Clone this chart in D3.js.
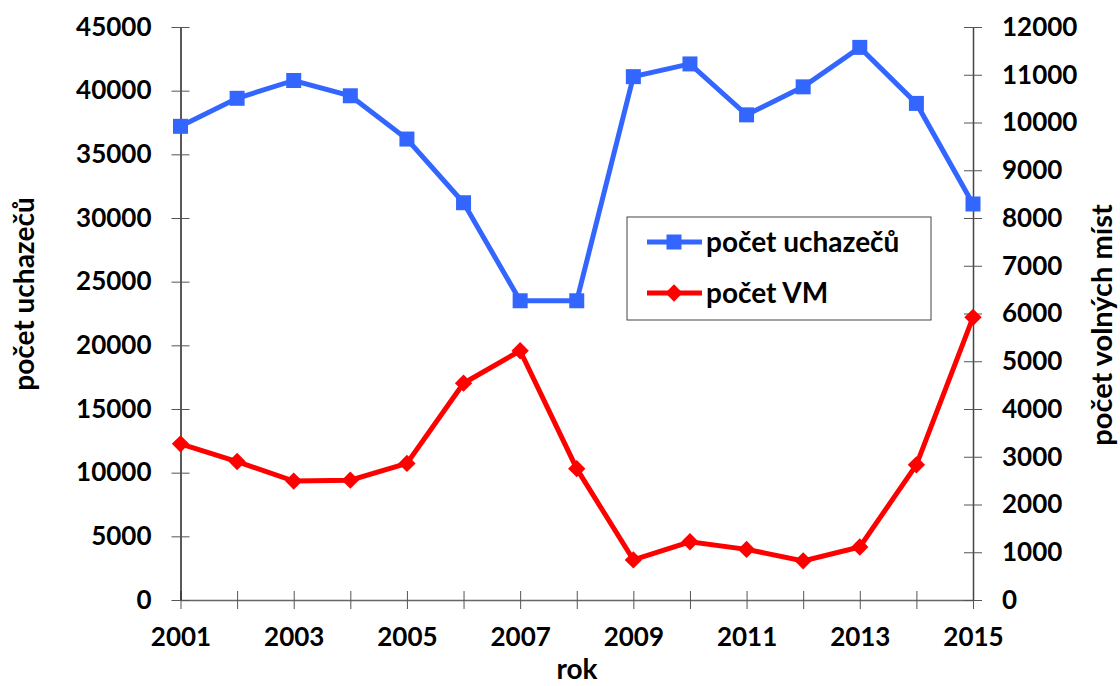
<!DOCTYPE html>
<html>
<head>
<meta charset="utf-8">
<script src="https://d3js.org/d3.v7.min.js"></script>
<style>
	body { margin: 0; background: #fff; }
	text { font-family: Lato, "Open Sans", sans-serif; font-weight: bold; fill: #000; }
</style>
</head>
<body>
<div id="chart"></div>
<script>
// years on the x axis
var years = [2001, 2002, 2003, 2004, 2005, 2006, 2007, 2008, 2009, 2010, 2011, 2012, 2013, 2014, 2015];
// počet uchazečů (left axis)
var uchazeci = [37200, 39400, 40800, 39600, 36200, 31200, 23500, 23500, 41100, 42100, 38100, 40300, 43400, 39000, 31100];
// počet VM (right axis)
var vm = [3270, 2900, 2490, 2510, 2860, 4540, 5220, 2750, 840, 1220, 1060, 820, 1110, 2830, 5920];

var leftTicks = [0, 5000, 10000, 15000, 20000, 25000, 30000, 35000, 40000, 45000];
var rightTicks = [0, 1000, 2000, 3000, 4000, 5000, 6000, 7000, 8000, 9000, 10000, 11000, 12000];
var xLabelYears = [2001, 2003, 2005, 2007, 2009, 2011, 2013, 2015];

var W = 1120, H = 686;
var plotL = 180.5, plotR = 973, plotT = 27, plotB = 600;

var svg = d3.select("#chart").append("svg")
	.attr("width", W).attr("height", H);

var x = d3.scaleLinear().domain([2001, 2015]).range([plotL, plotR]);
var yL = d3.scaleLinear().domain([0, 45000]).range([plotB, plotT]);
var yR = d3.scaleLinear().domain([0, 12000]).range([plotB, plotT]);

// x axis
var gx = svg.append("g")
	.attr("transform", "translate(0," + plotB + ")")
	.call(d3.axisBottom(x).tickValues(years).tickSize(9).tickSizeOuter(0).tickPadding(19)
		.tickFormat(function(d) { return xLabelYears.indexOf(d) >= 0 ? d : ""; }));
gx.select(".domain").attr("stroke", "#666").attr("stroke-width", 1.5);
gx.selectAll(".tick line").attr("y1", -9).attr("stroke", "#555");
gx.selectAll("text").style("font-size", "26px");

// left axis
var gl = svg.append("g")
	.attr("transform", "translate(" + plotL + ",0)")
	.call(d3.axisLeft(yL).tickValues(leftTicks).tickFormat(d3.format("d"))
		.tickSize(9).tickSizeOuter(0).tickPadding(20));
gl.select(".domain").attr("stroke", "#222").attr("stroke-width", 1.5);
gl.selectAll(".tick line").attr("x1", 9).attr("stroke", "#555");
gl.selectAll("text").style("font-size", "26px");

// right axis
var gr = svg.append("g")
	.attr("transform", "translate(" + plotR + ",0)")
	.call(d3.axisRight(yR).tickValues(rightTicks).tickFormat(d3.format("d"))
		.tickSize(9).tickSizeOuter(0).tickPadding(20));
gr.select(".domain").attr("stroke", "#444").attr("stroke-width", 1.5);
gr.selectAll(".tick line").attr("x1", -9).attr("stroke", "#555");
gr.selectAll("text").style("font-size", "26px");

// axis titles
svg.append("text")
	.attr("transform", "translate(34,294) rotate(-90)")
	.attr("text-anchor", "middle")
	.style("font-size", "28px")
	.text("počet uchazečů");

svg.append("text")
	.attr("transform", "translate(1112,325) rotate(-90)")
	.attr("text-anchor", "middle")
	.style("font-size", "29px")
	.text("počet volných míst");

svg.append("text")
	.attr("x", 577).attr("y", 679)
	.attr("text-anchor", "middle")
	.style("font-size", "28px")
	.text("rok");

var blue = "#3366ff", red = "#ff0000";

// lines
var lineL = d3.line().x(function(d, i) { return x(years[i]); }).y(function(d) { return yL(d); });
var lineR = d3.line().x(function(d, i) { return x(years[i]); }).y(function(d) { return yR(d); });

svg.append("path").datum(uchazeci)
	.attr("d", lineL).attr("fill", "none").attr("stroke", blue).attr("stroke-width", 5);
svg.append("path").datum(vm)
	.attr("d", lineR).attr("fill", "none").attr("stroke", red).attr("stroke-width", 5);

// markers
var sq = d3.symbol().type(d3.symbolSquare).size(225);
var dia = d3.symbol().type(d3.symbolSquare).size(150);

svg.selectAll(".sq").data(uchazeci).enter().append("path")
	.attr("class", "sq")
	.attr("d", sq)
	.attr("transform", function(d, i) { return "translate(" + x(years[i]) + "," + yL(d) + ")"; })
	.attr("fill", blue);

svg.selectAll(".dia").data(vm).enter().append("path")
	.attr("class", "dia")
	.attr("d", dia)
	.attr("transform", function(d, i) { return "translate(" + x(years[i]) + "," + yR(d) + ") rotate(45)"; })
	.attr("fill", red);

// legend
var lg = svg.append("g");
lg.append("rect")
	.attr("x", 627).attr("y", 217).attr("width", 304).attr("height", 103)
	.attr("fill", "#fff").attr("stroke", "#444").attr("stroke-width", 1);

var legendItems = [
	{ name: "počet uchazečů", color: blue, sym: sq, rot: 0, y: 242 },
	{ name: "počet VM", color: red, sym: dia, rot: 45, y: 293 }
];
legendItems.forEach(function(it) {
	lg.append("line")
		.attr("x1", 647).attr("x2", 702).attr("y1", it.y).attr("y2", it.y)
		.attr("stroke", it.color).attr("stroke-width", 5);
	lg.append("path")
		.attr("d", it.sym)
		.attr("transform", "translate(674," + it.y + ") rotate(" + it.rot + ")")
		.attr("fill", it.color);
	lg.append("text")
		.attr("x", 706).attr("y", it.y).attr("dy", "0.35em")
		.style("font-size", "28px")
		.text(it.name);
});
</script>
</body>
</html>
